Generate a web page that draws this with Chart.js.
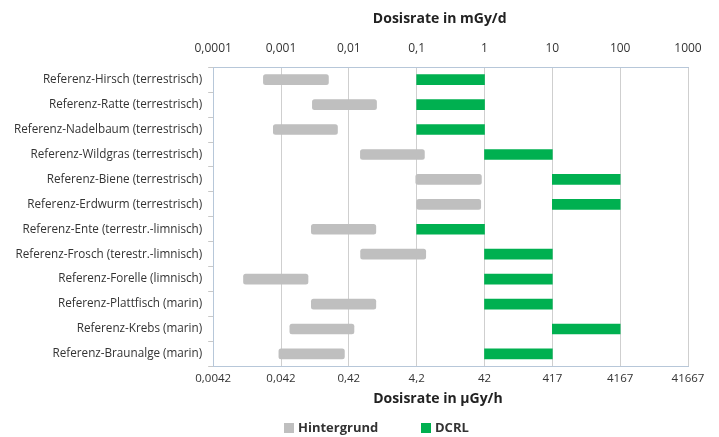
<!DOCTYPE html>
<html>
<head>
<meta charset="utf-8">
<script src="https://cdn.jsdelivr.net/npm/chart.js@4/dist/chart.umd.min.js"></script>
<style>
html,body{margin:0;padding:0;background:#fff;}
#wrap{width:719px;height:437px;}
</style>
</head>
<body>
<div id="wrap"><canvas id="c" width="719" height="437"></canvas></div>
<script>
const categories = [
  'Referenz-Hirsch (terrestrisch)',
  'Referenz-Ratte (terrestrisch)',
  'Referenz-Nadelbaum (terrestrisch)',
  'Referenz-Wildgras (terrestrisch)',
  'Referenz-Biene (terrestrisch)',
  'Referenz-Erdwurm (terrestrisch)',
  'Referenz-Ente (terrestr.-limnisch)',
  'Referenz-Frosch (terestr.-limnisch)',
  'Referenz-Forelle (limnisch)',
  'Referenz-Plattfisch (marin)',
  'Referenz-Krebs (marin)',
  'Referenz-Braunalge (marin)'
];
const hintergrundStart = [0.00055, 0.0029, 0.00077, 0.0148, 0.097, 0.10, 0.0028, 0.0149, 0.00028, 0.0028, 0.00135, 0.00093];
const hintergrundEnd   = [0.0050, 0.0256, 0.0068, 0.13, 0.90, 0.88, 0.025, 0.136, 0.0025, 0.025, 0.0119, 0.0086];
const dcrlStart = [0.1, 0.1, 0.1, 1, 10, 10, 0.1, 1, 1, 1, 10, 1];
const dcrlEnd   = [1, 1, 1, 10, 100, 100, 1, 10, 10, 10, 100, 10];
const tickValues = [0.0001, 0.001, 0.01, 0.1, 1, 10, 100, 1000];
const topTickLabels = ['0,0001', '0,001', '0,01', '0,1', '1', '10', '100', '1000'];
const bottomTickLabels = ['0,0042', '0,042', '0,42', '4,2', '42', '417', '4167', '41667'];
const seriesNames = ['Hintergrund', 'DCRL'];
const seriesColors = ['#bfbfbf', '#00b050'];

const FONT = "'Open Sans', sans-serif";
const axisBlue = '#b7c7d9';
const gridGrey = '#cfcfcf';

const setTicks = (scale) => { scale.ticks = tickValues.map(v => ({ value: v })); };

const legendPlugin = {
  id: 'customLegend',
  afterDraw(chart) {
    const ctx = chart.ctx;
    ctx.save();
    ctx.font = "bold 13px " + FONT;
    ctx.textBaseline = 'middle';
    const y = 428;
    const starts = [284, 421];
    seriesNames.forEach((name, i) => {
      ctx.fillStyle = seriesColors[i];
      ctx.fillRect(starts[i], y - 5, 10, 10);
      ctx.fillStyle = '#333';
      ctx.fillText(name, starts[i] + 14, y);
    });
    ctx.restore();
  }
};

new Chart(document.getElementById('c'), {
  type: 'bar',
  data: {
    labels: categories,
    datasets: [
      {
        label: seriesNames[0],
        data: hintergrundStart.map((s, i) => [s, hintergrundEnd[i]]),
        backgroundColor: seriesColors[0],
        borderWidth: 0,
        borderRadius: 2.5,
        borderSkipped: false,
        barThickness: 10,
        grouped: false,
        xAxisID: 'x'
      },
      {
        label: seriesNames[1],
        data: dcrlStart.map((s, i) => [s, dcrlEnd[i]]),
        backgroundColor: seriesColors[1],
        borderWidth: 0,
        borderSkipped: false,
        barThickness: 10,
        grouped: false,
        xAxisID: 'x'
      }
    ]
  },
  plugins: [legendPlugin],
  options: {
    indexAxis: 'y',
    responsive: false,
    animation: false,
    devicePixelRatio: 1,
    layout: { padding: { left: 8, right: 31, top: 11, bottom: 30 } },
    plugins: {
      tooltip: { enabled: false },
      legend: { display: false }
    },
    scales: {
      x: {
        type: 'logarithmic',
        position: 'top',
        min: 0.0001,
        max: 1000,
        afterBuildTicks: setTicks,
        border: { display: true, color: axisBlue },
        grid: { color: gridGrey, drawTicks: false },
        ticks: {
          padding: 11,
          color: '#333',
          font: { family: FONT, size: 12 },
          autoSkip: false,
          maxRotation: 0,
          callback: (v, i) => topTickLabels[i]
        },
        title: {
          display: true,
          text: 'Dosisrate in mGy/d      ',
          color: '#222',
          font: { family: FONT, size: 14, weight: 'bold' },
          padding: { top: 0, bottom: 3 }
        }
      },
      x2: {
        type: 'logarithmic',
        position: 'bottom',
        min: 0.0001,
        max: 1000,
        afterBuildTicks: setTicks,
        border: { display: true, color: axisBlue },
        grid: { drawOnChartArea: false, drawTicks: false },
        ticks: {
          padding: 5,
          color: '#333',
          font: { family: FONT, size: 11.5 },
          autoSkip: false,
          maxRotation: 0,
          callback: (v, i) => bottomTickLabels[i]
        },
        title: {
          display: true,
          text: 'Dosisrate in µGy/h       ',
          color: '#222',
          font: { family: FONT, size: 14, weight: 'bold' },
          padding: { top: 0, bottom: 0 }
        }
      },
      y: {
        offset: true,
        border: { display: true, color: axisBlue },
        grid: { offset: true, drawOnChartArea: false, drawTicks: true, tickLength: 5, color: '#c8c8c8' },
        ticks: {
          padding: 6,
          color: '#333',
          font: { family: FONT, size: 11.7 }
        }
      }
    }
  }
});
</script>
</body>
</html>
